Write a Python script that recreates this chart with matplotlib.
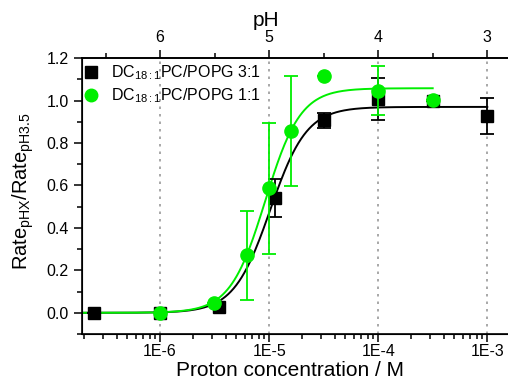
import numpy as np
import matplotlib.pyplot as plt
from matplotlib.lines import Line2D
from matplotlib.ticker import FixedLocator, NullFormatter, FormatStrFormatter, MultipleLocator

plt.rcParams['font.family'] = ['Liberation Sans', 'DejaVu Sans']
plt.rcParams['mathtext.fontset'] = 'custom'
plt.rcParams['mathtext.rm'] = 'Liberation Sans'
plt.rcParams['mathtext.it'] = 'Liberation Sans'
plt.rcParams['mathtext.default'] = 'regular'

# DC18:1PC/POPG 3:1 (black squares)
h_31 = [2.5e-7, 1e-6, 3.5e-6, 1.12e-5, 3.16e-5, 1e-4, 3.16e-4, 1e-3]
rate_31 = [0.0, 0.0, 0.026, 0.541, 0.908, 1.008, 1.0, 0.929]
err_31 = [0.0, 0.0, 0.0, 0.09, 0.035, 0.10, 0.0, 0.085]

# DC18:1PC/POPG 1:1 (green circles)
h_11 = [1e-6, 3.1e-6, 6.3e-6, 1e-5, 1.58e-5, 3.16e-5, 1e-4, 3.16e-4]
rate_11 = [0.0, 0.045, 0.27, 0.586, 0.858, 1.115, 1.047, 1.003]
err_11 = [0.0, 0.0, 0.21, 0.31, 0.26, 0.0, 0.115, 0.0]

# Hill fit parameters: plateau, log10(K), n, x range
fit_31 = (0.97, -4.99, 2.6, 2e-7, 1e-3)
fit_11 = (1.058, -5.035, 2.7, 2e-7, 3.16e-4)

ph_ticks = [6, 5, 4, 3]
ph_minor = [6.5, 5.5, 4.5, 3.5]
x_ticks = [1e-6, 1e-5, 1e-4, 1e-3]
x_labels = ['1E-6', '1E-5', '1E-4', '1E-3']
labels = ['DC$_{18{:}1}$PC/POPG 3:1', 'DC$_{18{:}1}$PC/POPG 1:1']

green = '#00ee00'

fig = plt.figure(figsize=(5.08, 3.79), dpi=100)
ax = fig.add_axes([0.1614, 0.1187, 0.8386, 0.728])
ax.set_xscale('log')
xlim = (10 ** -6.716, 10 ** -2.81)
ax.set_xlim(xlim)
ax.set_ylim(-0.1, 1.2)

for xv in x_ticks:
    ax.axvline(xv, color='#999999', ls=(0, (1.5, 3)), lw=1.2, zorder=0)


def hill(p):
    a, logk, n, x0, x1 = p
    x = np.logspace(np.log10(x0), np.log10(x1), 300)
    return x, a / (1 + (10 ** logk / x) ** n)


xb, yb = hill(fit_31)
xg, yg = hill(fit_11)
ax.plot(xb, yb, color='black', lw=1.4, zorder=2)
ax.plot(xg, yg, color=green, lw=1.4, zorder=2)

ax.errorbar(h_31, rate_31, yerr=err_31, fmt='s', color='black', ms=8.5,
            capsize=5, elinewidth=1.3, capthick=1.3, zorder=3)
ax.errorbar(h_11, rate_11, yerr=err_11, fmt='o', color=green, ms=9.5,
            capsize=5, elinewidth=1.3, capthick=1.3, zorder=4)

ax.xaxis.set_major_locator(FixedLocator(x_ticks))
ax.set_xticklabels(x_labels)
ax.yaxis.set_major_locator(MultipleLocator(0.2))
ax.yaxis.set_minor_locator(MultipleLocator(0.1))
ax.yaxis.set_major_formatter(FormatStrFormatter('%.1f'))
ax.tick_params(which='both', direction='out', labelsize=11.5, width=1.1)
ax.tick_params(which='major', length=6)
ax.tick_params(which='minor', length=3.5)
ax.tick_params(axis='x', pad=1)
ax.spines['right'].set_visible(False)
for s in ['left', 'bottom', 'top']:
    ax.spines[s].set_linewidth(1.2)

ax.set_xlabel('Proton concentration / M', fontsize=15, va='baseline')
ax.xaxis.set_label_coords(0.488, -0.152)
ax.set_ylabel('Rate$_{pHX}$/Rate$_{pH3.5}$', fontsize=14.5)
ax.yaxis.set_label_coords(-0.108, 0.52)

ax2 = ax.twiny()
ax2.set_xscale('log')
ax2.set_xlim(xlim)
ax2.xaxis.set_major_locator(FixedLocator([10.0 ** -p for p in ph_ticks]))
ax2.set_xticklabels([str(p) for p in ph_ticks])
ax2.xaxis.set_minor_locator(FixedLocator([10.0 ** -p for p in ph_minor]))
ax2.xaxis.set_minor_formatter(NullFormatter())
ax2.tick_params(which='both', direction='out', labelsize=11.5, width=1.1)
ax2.tick_params(which='major', length=6)
ax2.tick_params(which='minor', length=3.5)
ax2.spines['right'].set_visible(False)
ax2.spines['top'].set_linewidth(1.2)
ax2.set_xlabel('pH', fontsize=15)
ax2.xaxis.set_label_coords(0.432, 1.115)

handles = [Line2D([], [], marker='s', ls='none', color='black', ms=8),
           Line2D([], [], marker='o', ls='none', color=green, ms=9)]
ax.legend(handles, labels, loc='upper left', bbox_to_anchor=(-0.025, 1.02),
          frameon=False, fontsize=11.5, handletextpad=0.8, handlelength=1.0,
          borderaxespad=0.3, labelspacing=0.25)

fig.savefig('out.png', dpi=100)
